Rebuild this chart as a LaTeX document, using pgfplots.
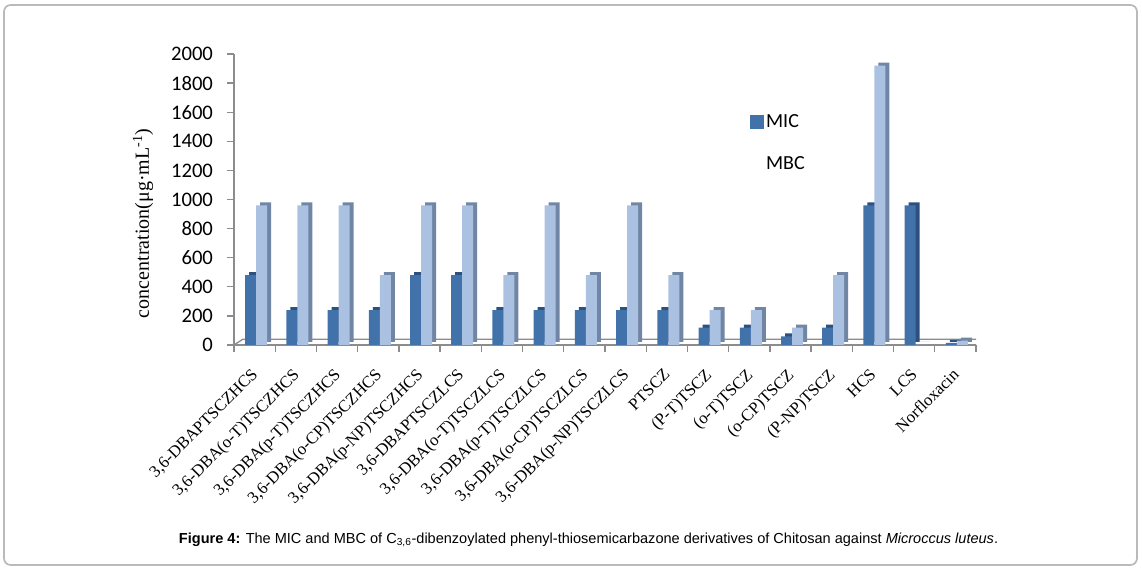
\documentclass[border=0pt]{standalone}
\usepackage{fontspec}
\setmainfont{Liberation Serif}
\newfontfamily\calibri{Carlito}
\newfontfamily\arial{Liberation Sans}
\usepackage{pgfplots}
\pgfplotsset{compat=1.18}

\definecolor{mic}{RGB}{66,114,170}
\definecolor{micdark}{RGB}{44,80,128}
\definecolor{mbc}{RGB}{170,193,226}
\definecolor{mbcdark}{RGB}{112,134,164}
\definecolor{axisgray}{RGB}{140,140,140}

% values (ug/mL)
\pgfplotstableread{
idx mic mbc
0  480 960
1  240 960
2  240 960
3  240 480
4  480 960
5  480 960
6  240 480
7  240 960
8  240 480
9  240 960
10 240 480
11 120 240
12 120 240
13 60  120
14 120 480
15 960 1920
16 960 0
17 15  30
}\datatable

\begin{document}
\begin{tikzpicture}[x=1pt,y=1pt]
\useasboundingbox (0,0) rectangle (856.5,427.5);
\draw[black!27, line width=1.3pt, rounded corners=5pt] (3,3.75) rectangle (852.75,423.75);

\begin{axis}[
    at={(175.5pt,168.75pt)}, anchor=south west,
    scale only axis, width=556.5pt, height=218.25pt,
    xmin=-0.5, xmax=17.5, ymin=0, ymax=2000,
    axis lines=left,
    axis line style={-, draw=axisgray, line width=1.2pt},
    tick align=outside,
    major tick length=5.25pt, minor tick length=5.25pt,
    tick style={draw=axisgray, line width=1pt},
    ytick={0,200,...,2000},
    xtick={0,...,17},
    minor xtick={-0.5,0.5,...,17.5},
    major x tick style={draw=none},
    xticklabels={{3,6-DBAPTSCZHCS},{3,6-DBA(o-T)TSCZHCS},{3,6-DBA(p-T)TSCZHCS},
        {3,6-DBA(o-CP)TSCZHCS},{3,6-DBA(p-NP)TSCZHCS},{3,6-DBAPTSCZLCS},
        {3,6-DBA(o-T)TSCZLCS},{3,6-DBA(p-T)TSCZLCS},{3,6-DBA(o-CP)TSCZLCS},
        {3,6-DBA(p-NP)TSCZLCS},PTSCZ,(P-T)TSCZ,(o-T)TSCZ,(o-CP)TSCZ,(P-NP)TSCZ,
        HCS,LCS,Norfloxacin},
    xticklabel style={xshift=-3pt, yshift=-10pt, rotate=45, anchor=north east,
        inner sep=1pt, font=\fontsize{12.6}{14}\selectfont},
    yticklabel style={font=\calibri\fontsize{15.5}{18}\selectfont, xshift=-7pt},
    /pgf/number format/assume math mode=true,
    /pgf/number format/1000 sep={},
    ylabel={concentration(μg·mL\textsuperscript{-1})},
    ylabel style={font=\fontsize{15}{18}\selectfont,
        at={(axis description cs:-0.1226,0.418)}, anchor=center},
    legend style={at={(0.69,0.81)}, anchor=north west, draw=none, fill=none,
        font=\calibri\fontsize{15}{18}\selectfont, row sep=16pt,
        /tikz/every even column/.append style={column sep=4pt}},
    legend cell align=left,
]
\draw[axisgray, line width=1pt] (axis cs:-0.5,0) -- ++(6.5pt,4.25pt)
    -- ([xshift=6.75pt,yshift=4.25pt]axis cs:17.5,0) -- (axis cs:17.5,0);

\addplot[ybar, bar width=8.25pt, fill=micdark, draw=none, bar shift=-3pt,
    xshift=3pt, yshift=2.25pt, forget plot]
    table[x=idx, y=mic] {\datatable};
\addplot[ybar, bar width=8.25pt, fill=mic, draw=none, bar shift=-3pt, forget plot]
    table[x=idx, y=mic] {\datatable};
\addplot[ybar, bar width=8.25pt, fill=mbcdark, draw=none, bar shift=5.25pt,
    xshift=3pt, yshift=2.25pt, forget plot]
    table[x=idx, y=mbc] {\datatable};
\addplot[ybar, bar width=8.25pt, fill=mbc, draw=none, bar shift=5.25pt, forget plot]
    table[x=idx, y=mbc] {\datatable};

\addlegendimage{legend image code/.code={\fill[mic] (0pt,-4.5pt) rectangle (9.5pt,5pt);}}
\addlegendentry{MIC}
\addlegendimage{legend image code/.code={\path[draw=none, fill=none] (0pt,-4.5pt) rectangle (9.5pt,5pt);}}
\addlegendentry{MBC}
\end{axis}

\node[font=\arial\fontsize{10.9}{12}\selectfont] at (441.4,22.5)
    {\textbf{Figure 4:} The MIC and MBC of C\textsubscript{3,6}-dibenzoylated phenyl-thiosemicarbazone derivatives of Chitosan against \textit{Microccus luteus}.};
\end{tikzpicture}
\end{document}
